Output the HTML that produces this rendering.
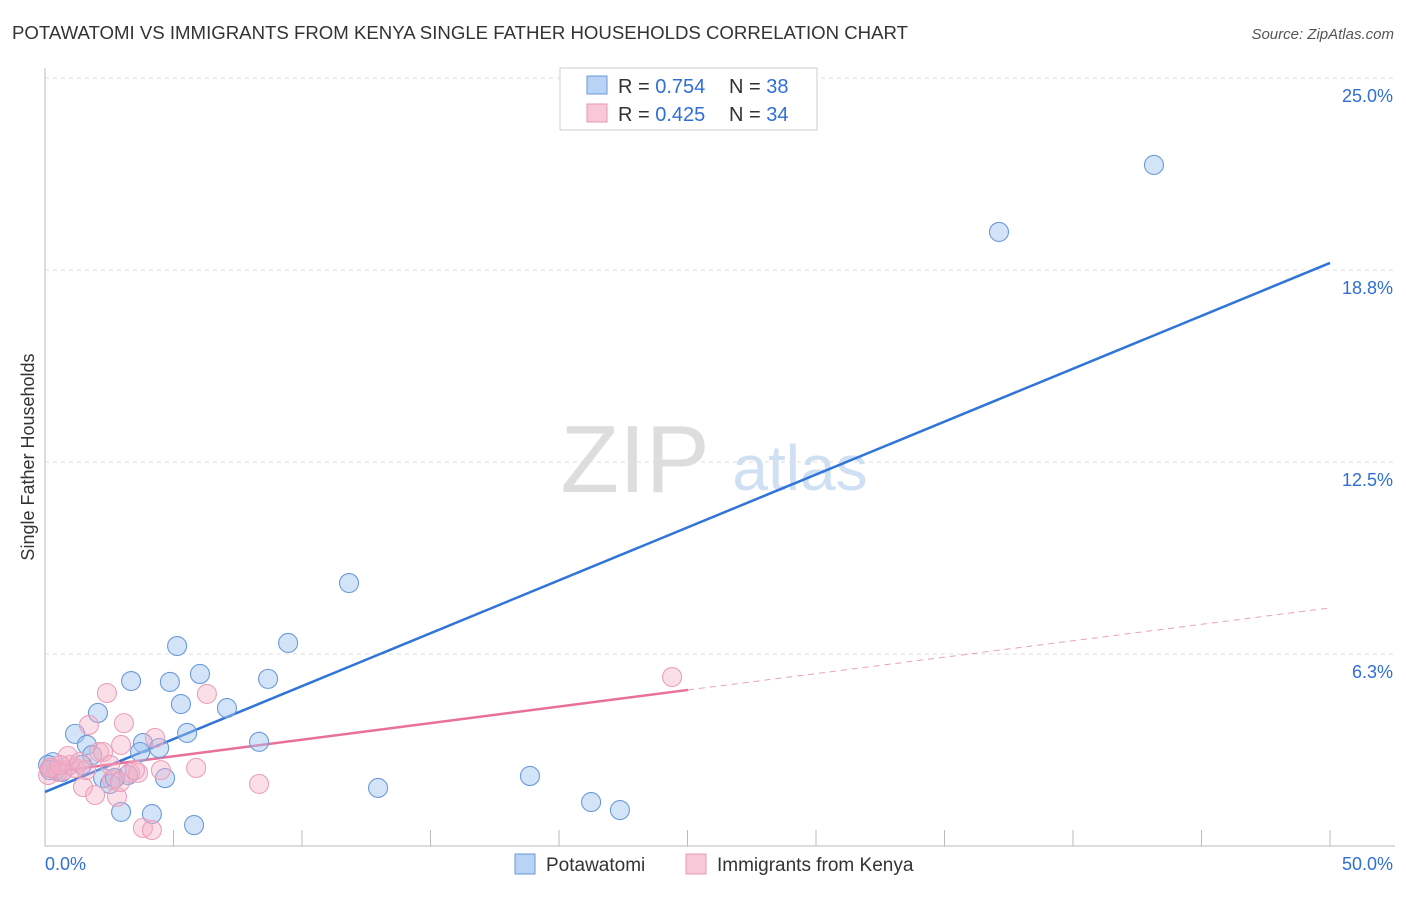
<!DOCTYPE html>
<html><head><meta charset="utf-8"><style>
body{margin:0;background:#fff;font-family:"Liberation Sans",sans-serif;}
svg text{font-family:"Liberation Sans",sans-serif;}
</style></head><body>
<svg width="1406" height="892" xmlns="http://www.w3.org/2000/svg">
<text x="12" y="39" font-size="18" fill="#333" textLength="896" lengthAdjust="spacingAndGlyphs">POTAWATOMI VS IMMIGRANTS FROM KENYA SINGLE FATHER HOUSEHOLDS CORRELATION CHART</text>
<text x="1394" y="39" font-size="15" fill="#555" font-style="italic" text-anchor="end">Source: ZipAtlas.com</text>
<text x="635" y="492" font-size="96" fill="#ddd" font-family="Liberation Serif" text-anchor="middle">ZIP</text>
<text x="800" y="490" font-size="64" fill="#cfe0f5" text-anchor="middle">atlas</text>
<g id="grid"></g><g id="axes"></g><g id="lines"></g><g id="pts"></g>
<text transform="translate(34,457) rotate(-90)" font-size="18" fill="#333" text-anchor="middle">Single Father Households</text>
<g>
<rect x="560" y="68" width="257" height="62" fill="#fff" stroke="#ccc"/>
<rect x="587" y="76" width="20" height="18" fill="#b8d3f5" stroke="#6a9ad8"/>
<rect x="587" y="104" width="20" height="18" fill="#f8c8d8" stroke="#e696b2"/>
<text x="618" y="93" font-size="20" fill="#333">R = <tspan fill="#2f6fd6">0.754</tspan></text>
<text x="729" y="93" font-size="20" fill="#333">N = <tspan fill="#2f6fd6">38</tspan></text>
<text x="618" y="121" font-size="20" fill="#333">R = <tspan fill="#2f6fd6">0.425</tspan></text>
<text x="729" y="121" font-size="20" fill="#333">N = <tspan fill="#2f6fd6">34</tspan></text>
</g>
<g>
<rect x="515" y="854" width="20" height="20" fill="#b8d3f5" stroke="#6a9ad8"/>
<text x="546" y="871" font-size="19" fill="#333">Potawatomi</text>
<rect x="686" y="854" width="20" height="20" fill="#f8c8d8" stroke="#e696b2"/>
<text x="717" y="871" font-size="19" fill="#333">Immigrants from Kenya</text>
</g>
</svg>
<script>
const yTicks=[6.25,12.5,18.75,25];
const yTickLabels=["6.3%","12.5%","18.8%","25.0%"];
const xTickLabels=["0.0%","50.0%"];
const blueX=[0.31,0.12,1.17,1.63,2.06,1.83,2.26,2.53,2.96,3.35,3.23,3.81,3.70,4.16,4.44,4.67,4.86,5.14,5.29,5.53,5.80,6.03,7.08,8.33,8.68,9.46,11.83,12.96,18.87,21.25,22.37,37.12,43.15,0.43,0.66,0.19,2.72,1.44];
const blueY=[2.73,2.64,3.65,3.29,4.33,2.96,2.21,2.02,1.11,5.37,2.31,3.35,3.06,1.04,3.19,2.21,5.34,6.51,4.62,3.68,0.68,5.60,4.49,3.39,5.44,6.61,8.56,1.89,2.28,1.43,1.17,19.99,22.17,2.47,2.41,2.47,2.21,2.64];
const pinkX=[0.12,0.27,0.51,0.74,0.97,1.17,0.89,1.36,1.48,1.71,1.95,2.10,2.26,2.41,2.61,2.80,2.92,3.07,2.96,3.31,3.62,3.50,3.81,4.16,4.28,4.51,5.88,6.30,8.33,24.40,0.19,0.58,1.60,2.53];
const pinkY=[2.31,2.54,2.41,2.47,2.64,2.54,2.93,2.73,1.92,3.94,1.66,3.06,3.06,4.98,2.15,1.60,2.08,4.00,3.29,2.38,2.38,2.47,0.59,0.52,3.52,2.47,2.54,4.95,2.02,5.50,2.54,2.64,2.47,2.64];
const blueLine=[1.76,18.98];
const pinkLine=[2.38,5.08,7.75];
const pinkSolidEnd=25.02;
const NS="http://www.w3.org/2000/svg";
const xs=v=>45+v*25.7, ys=v=>846-v*30.72;
function mk(t,a,p){const e=document.createElementNS(NS,t);for(const k in a)e.setAttribute(k,a[k]);p.appendChild(e);return e;}
const grid=document.getElementById('grid'),axes=document.getElementById('axes');
yTicks.forEach((t,i)=>{
 const l=mk('line',{x1:45,x2:1395,y1:ys(t),y2:ys(t),stroke:'#ddd','stroke-dasharray':'4,4'},grid);
 
 
 const tx=mk('text',{x:1393,y:ys(t)+24,'font-size':18,fill:'#2f6fd6','text-anchor':'end'},axes);
 tx.textContent=yTickLabels[i];
 
 
});
mk('line',{x1:45,x2:45,y1:68,y2:846,stroke:'#bbb'},axes);
mk('line',{x1:45,x2:1395,y1:846,y2:846,stroke:'#bbb'},axes);
for(let i=0;i<=10;i++){const t=mk('line',{x1:xs(i*5),x2:xs(i*5),y1:830,y2:846,stroke:'#bbb'},axes);
 
 }
[[0,'start',45],[50,'end',1393]].forEach((d,i)=>{const tx=mk('text',{x:d[2],y:870,'font-size':18,fill:'#2f6fd6','text-anchor':d[1]},axes);tx.textContent=xTickLabels[i];
 
 });
const lines=document.getElementById('lines');
const bl=mk('line',{x1:xs(0),y1:ys(blueLine[0]),x2:xs(50),y2:ys(blueLine[1]),stroke:'#2f74d8','stroke-width':2.5},lines);


const pl=mk('line',{x1:xs(0),y1:ys(pinkLine[0]),x2:xs(pinkSolidEnd),y2:ys(pinkLine[1]),stroke:'#e8709a','stroke-width':2.5},lines);


const pd=mk('line',{x1:xs(pinkSolidEnd),y1:ys(pinkLine[1]),x2:xs(50),y2:ys(pinkLine[2]),stroke:'#eaa0b8','stroke-width':1,'stroke-dasharray':'6,5'},lines);


const pts=document.getElementById('pts');
blueX.forEach((x,i)=>{const c=mk('circle',{cx:xs(x),cy:ys(blueY[i]),r:9.5,fill:'rgba(160,196,240,0.45)',stroke:'#6a9ad8','stroke-width':1.1},pts);
 
 });
pinkX.forEach((x,i)=>{const c=mk('circle',{cx:xs(x),cy:ys(pinkY[i]),r:9.5,fill:'rgba(245,175,198,0.4)',stroke:'#eba0bb','stroke-width':1.1},pts);
 
 });
</script>
</body></html>
